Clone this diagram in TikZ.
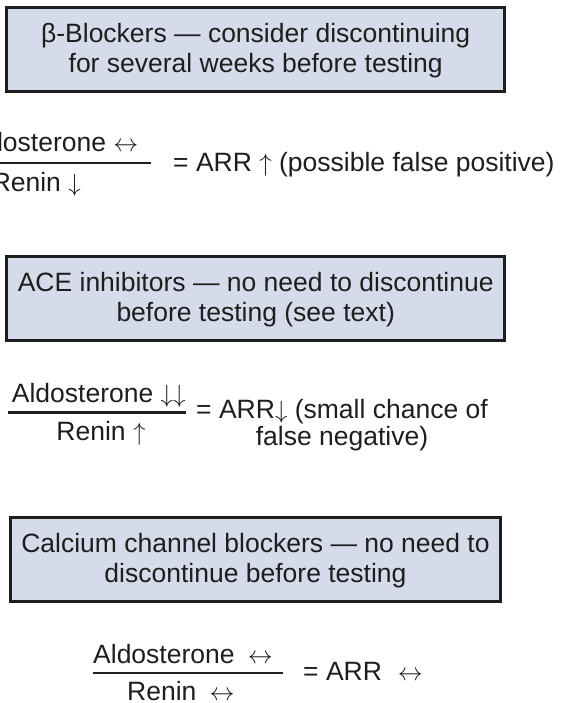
\documentclass[tikz,border=0pt]{standalone}
\usepackage{fontspec}
\setmainfont{Liberation Sans}
\definecolor{boxfill}{RGB}{213,219,234}
\definecolor{ink}{RGB}{30,30,30}
\newcommand\boxfont{\fontsize{26.5}{29.5}\selectfont}
\newcommand\eqfont{\fontsize{26.5}{29.5}\selectfont}
\newcommand\UpA{\ensuremath{\uparrow}}
\newcommand\DnA{\ensuremath{\downarrow}}
\newcommand\LRA{\ensuremath{\leftrightarrow}}
\begin{document}
\begin{tikzpicture}[x=1pt,y=-1pt,
  drugbox/.style={draw=ink,line width=2.6pt,fill=boxfill,inner sep=0pt,
    minimum height=84.4pt,align=center,text=ink,font=\boxfont,text depth=3pt},
  eqtext/.style={inner sep=0pt,text=ink,font=\eqfont},
  fracline/.style={draw=ink,line width=2.4pt}]
\useasboundingbox (0,0) rectangle (562,703);
% boxes
\node[drugbox,minimum width=498pt] (bb) at (255.7,49.5)
  {β-Blockers — consider discontinuing\\for several weeks before testing};
\node[drugbox,minimum width=498pt] (ace) at (255.7,298.5)
  {ACE inhibitors — no need to discontinue\\before testing (see text)};
\node[drugbox,minimum width=490pt] (ccb) at (255.5,559.5)
  {Calcium channel blockers — no need to\\discontinue before testing};
% equation 1
\node[eqtext,anchor=base west] (n1) at (-35.5,152) {Aldosterone \LRA};
\node[eqtext,anchor=base east] (d1) at (81,192) {Renin \DnA};
\coordinate (l1a) at (-40,163.3);
\coordinate (l1b) at (151,163.3);
\draw[fracline] (l1a) -- (l1b);
\node[eqtext,anchor=base west] (r1) at (173,172) {= ARR \UpA\ (possible false positive)};
% equation 2
\node[eqtext,anchor=base west] (n2) at (11.7,402.7) {Aldosterone \DnA\DnA};
\node[eqtext,anchor=base] (d2) at (101,440) {Renin \UpA};
\coordinate (l2a) at (8,412.3);
\coordinate (l2b) at (186,412.3);
\draw[fracline] (l2a) -- (l2b);
\node[eqtext,anchor=base] (r2a) at (342,418) {= ARR\DnA\ (small chance of};
\node[eqtext,anchor=base] (r2b) at (342,445) {false negative)};
% equation 3
\node[eqtext,anchor=base west] (n3) at (93,663) {Aldosterone\hspace{0.5em}\LRA};
\node[eqtext,anchor=base west] (d3) at (127,700) {Renin\hspace{0.5em}\LRA};
\coordinate (l3a) at (93,673);
\coordinate (l3b) at (283,673);
\draw[fracline] (l3a) -- (l3b);
\node[eqtext,anchor=base west] (r3) at (303,680) {= ARR\hspace{0.6em}\LRA};
\end{tikzpicture}
\end{document}
